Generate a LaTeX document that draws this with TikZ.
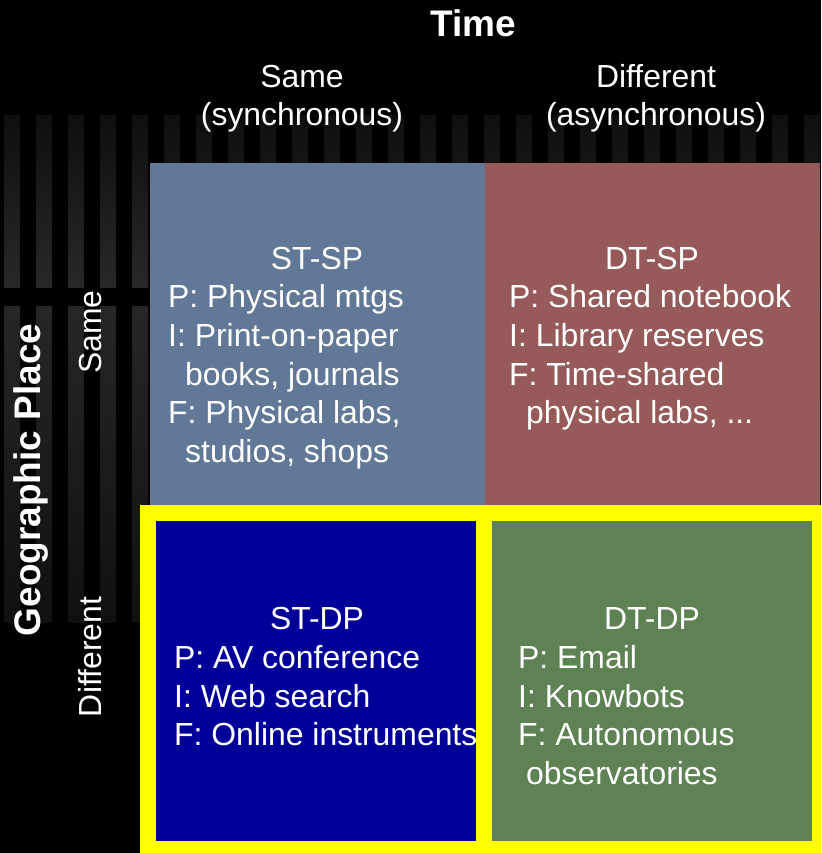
\documentclass[tikz,border=0pt]{standalone}
\usepackage{fontspec}
\setmainfont{Liberation Sans}
\definecolor{bgray}{RGB}{97,121,150}
\definecolor{bred}{RGB}{150,90,90}
\definecolor{bgreen}{RGB}{95,130,85}
\definecolor{bblue}{RGB}{0,0,153}
\definecolor{byellow}{RGB}{255,255,0}
\definecolor{stA}{RGB}{14,14,14}
\definecolor{stB}{RGB}{40,40,40}
\definecolor{stC}{RGB}{38,38,38}
\definecolor{stD}{RGB}{16,16,16}
\begin{document}
\begin{tikzpicture}[x=1pt,y=-1pt,
  txt/.style={text=white,inner sep=0pt,font=\fontsize{31.9}{38}\selectfont},
  ttl/.style={txt,anchor=base},
  ln/.style={txt,anchor=base west},
  big/.style={text=white,inner sep=0pt,anchor=base,font=\fontsize{37}{44}\selectfont\bfseries}]
\useasboundingbox (0,0) rectangle (821,853);
\fill[black] (0,0) rectangle (821,853);
% background stripes
\shade[top color=stA,bottom color=stB] \foreach \i in {0,...,25}{(4+32*\i,115) rectangle (20+32*\i,288)};
\shade[top color=stC,bottom color=stD] \foreach \i in {0,...,25}{(4+32*\i,306) rectangle (20+32*\i,623)};
% upper cells
\fill[bgray] (150,163) rectangle (485,510);
\fill[bred] (485,163) rectangle (820,510);
% yellow frame and lower cells
\fill[byellow] (140,505) rectangle (821,853);
\fill[bblue] (156,521) rectangle (476,841);
\fill[bgreen] (492,521) rectangle (812,841);
% headers
\node[big] (time) at (473,37) {Time};
\node[ttl] (same) at (302,88) {Same};
\node[ttl] (sync) at (302,126) {(synchronous)};
\node[ttl] (diff) at (656,88) {Different};
\node[ttl] (async) at (656,126) {(asynchronous)};
\node[big,rotate=90] (geo) at (40,480) {Geographic Place};
\node[ttl,rotate=90] (psame) at (101,332) {Same};
\node[ttl,rotate=90] (pdiff) at (101,657) {Different};
% ST-SP
\node[ttl] (stsp) at (317,269) {ST-SP};
\node[ln] (stsp1) at (168,307) {P: Physical mtgs};
\node[ln] (stsp2) at (168,346) {I: Print-on-paper};
\node[ln] (stsp3) at (185,385) {books, journals};
\node[ln] (stsp4) at (168,423) {F: Physical labs,};
\node[ln] (stsp5) at (185,462) {studios, shops};
% DT-SP
\node[ttl] (dtsp) at (652,269) {DT-SP};
\node[ln] (dtsp1) at (509,307) {P: Shared notebook};
\node[ln] (dtsp2) at (509,346) {I: Library reserves};
\node[ln] (dtsp3) at (509,385) {F: Time-shared};
\node[ln] (dtsp4) at (526,423) {physical labs, ...};
% ST-DP
\node[ttl] (stdp) at (317,629) {ST-DP};
\node[ln] (stdp1) at (174,668) {P: AV conference};
\node[ln] (stdp2) at (174,707) {I: Web search};
\node[ln] (stdp3) at (174,745) {F: Online instruments};
% DT-DP
\node[ttl] (dtdp) at (652,629) {DT-DP};
\node[ln] (dtdp1) at (518,668) {P: Email};
\node[ln] (dtdp2) at (518,707) {I: Knowbots};
\node[ln] (dtdp3) at (518,745) {F: Autonomous};
\node[ln] (dtdp4) at (526,784) {observatories};
\end{tikzpicture}
\end{document}
